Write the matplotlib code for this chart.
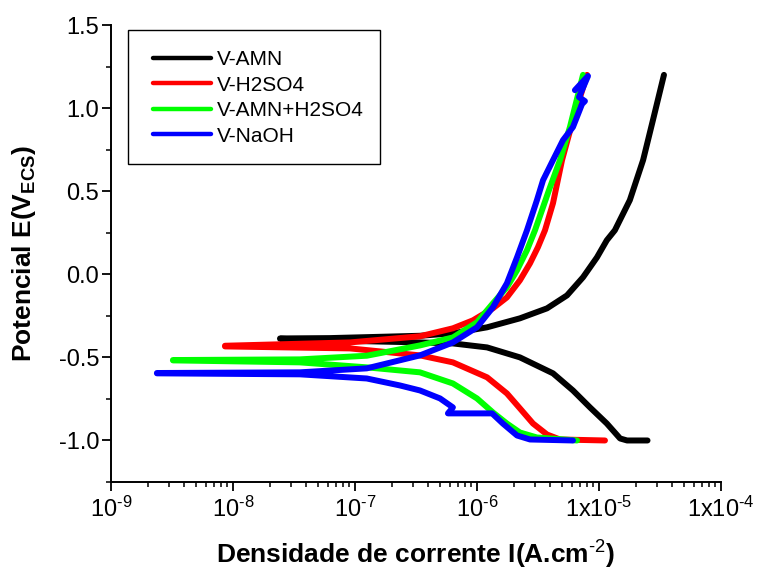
import matplotlib
matplotlib.use('Agg')
import matplotlib.pyplot as plt
from matplotlib.patches import Rectangle
from matplotlib.ticker import (FixedLocator, FixedFormatter, LogLocator, MultipleLocator,
                               NullFormatter, FormatStrFormatter)

plt.rcParams['font.family'] = ['Liberation Sans', 'DejaVu Sans']
plt.rcParams['mathtext.default'] = 'regular'
plt.rcParams['mathtext.fontset'] = 'custom'
plt.rcParams['mathtext.rm'] = 'Liberation Sans'
plt.rcParams['mathtext.bf'] = 'Liberation Sans:bold'

# =============================================================================
# DATA  (current density A/cm2, potential V vs ECS)
# each path: cathodic end -> Ecorr -> anodic end
# =============================================================================

i_amn = [2.50e-5, 1.70e-5, 1.49e-5, 1.16e-5, 8.44e-6, 6.12e-6, 4.20e-6, 2.25e-6, 1.21e-6,
         6.35e-7, 3.41e-7, 6.2e-8, 2.43e-8,
         2.43e-8, 6.2e-8, 3.41e-7, 6.35e-7, 1.21e-6, 2.25e-6, 3.75e-6, 5.47e-6, 7.40e-6,
         9.63e-6, 1.16e-5, 1.35e-5, 1.79e-5, 2.30e-5, 2.77e-5, 3.41e-5]
e_amn = [-1.0, -1.0, -0.988, -0.898, -0.801, -0.699, -0.596, -0.500, -0.440,
         -0.416, -0.410, -0.398, -0.388,
         -0.386, -0.384, -0.370, -0.355, -0.319, -0.265, -0.205, -0.127, -0.018,
         0.102, 0.205, 0.265, 0.446, 0.687, 0.928, 1.2]

i_h2so4 = [1.12e-5, 4.79e-6, 3.75e-6, 2.88e-6, 2.25e-6, 1.76e-6, 1.21e-6, 6.35e-7, 3.41e-7,
           9.1e-8, 8.6e-9,
           8.6e-9, 9.1e-8, 3.41e-7, 6.35e-7, 9.27e-7, 1.35e-6, 1.76e-6, 2.25e-6, 2.72e-6,
           3.16e-6, 3.61e-6, 4.20e-6, 4.98e-6, 6.12e-6, 7.98e-6]
e_h2so4 = [-1.0, -0.994, -0.964, -0.898, -0.807, -0.717, -0.620, -0.530, -0.488,
           -0.446, -0.434,
           -0.430, -0.410, -0.373, -0.325, -0.277, -0.205, -0.139, -0.036, 0.066,
           0.163, 0.265, 0.428, 0.687, 0.928, 1.2]

i_mix = [6.61e-6, 3.10e-6, 2.25e-6, 1.76e-6, 1.35e-6, 1.0e-6, 6.35e-7, 3.41e-7, 1.25e-7,
         3.54e-8, 3.22e-9,
         3.22e-9, 3.54e-8, 1.25e-7, 3.41e-7, 6.35e-7, 1.0e-6, 1.35e-6, 1.76e-6, 2.13e-6,
         2.57e-6, 2.99e-6, 3.89e-6, 4.79e-6, 5.78e-6, 7.40e-6]
e_mix = [-1.0, -0.982, -0.952, -0.898, -0.831, -0.747, -0.657, -0.590, -0.560,
         -0.530, -0.518,
         -0.516, -0.512, -0.490, -0.428, -0.380, -0.289, -0.175, -0.078, 0.024,
         0.145, 0.265, 0.506, 0.687, 0.886, 1.2]

i_naoh = [6.12e-6, 2.72e-6, 2.13e-6, 1.63e-6, 1.33e-6, 5.78e-7, 6.35e-7, 4.98e-7, 3.41e-7,
          2.34e-7, 1.25e-7, 3.54e-8, 2.38e-9,
          2.38e-9, 3.54e-8, 1.25e-7, 3.41e-7, 6.35e-7, 1.0e-6, 1.35e-6, 1.76e-6, 2.13e-6,
          2.57e-6, 3.10e-6, 3.48e-6, 4.20e-6, 5.07e-6, 6.12e-6, 7.26e-6, 7.67e-6, 6.86e-6,
          8.13e-6, 6.35e-6]
e_naoh = [-1.0, -0.994, -0.970, -0.898, -0.837, -0.837, -0.801, -0.747, -0.699,
          -0.669, -0.627, -0.602, -0.596,
          -0.594, -0.590, -0.566, -0.488, -0.410, -0.319, -0.199, -0.054, 0.102,
          0.265, 0.446, 0.566, 0.687, 0.807, 0.886, 1.024, 1.042, 1.066,
          1.193, 1.108]

series_labels = ['V-AMN', 'V-H2SO4', 'V-AMN+H2SO4', 'V-NaOH']
series_colors = ['#000000', '#ff0000', '#00ff00', '#0000ff']

x_ticks = [1e-9, 1e-8, 1e-7, 1e-6, 1e-5, 1e-4]
x_tick_labels = [r'10$^{\text{-9}}$', r'10$^{\text{-8}}$', r'10$^{\text{-7}}$',
                 r'10$^{\text{-6}}$', r'1x10$^{\text{-5}}$', r'1x10$^{\text{-4}}$']

# =============================================================================
# PLOT
# =============================================================================

fig = plt.figure(figsize=(7.59, 5.75), dpi=100)
ax = fig.add_axes([0.1462, 0.1617, 0.8037, 0.7948])

curves = [(i_amn, e_amn), (i_h2so4, e_h2so4), (i_mix, e_mix), (i_naoh, e_naoh)]
for (xs, ys), lab, col in zip(curves, series_labels, series_colors):
    ax.plot(xs, ys, color=col, lw=4.3, label=lab,
            solid_capstyle='round', solid_joinstyle='round')

ax.set_xscale('log')
ax.set_xlim(1e-9, 1e-4)
ax.set_ylim(-1.25, 1.5)

ax.xaxis.set_major_locator(FixedLocator(x_ticks))
ax.xaxis.set_major_formatter(FixedFormatter(x_tick_labels))
ax.xaxis.set_minor_locator(LogLocator(base=10, subs=range(2, 10), numticks=20))
ax.xaxis.set_minor_formatter(NullFormatter())
ax.yaxis.set_major_locator(MultipleLocator(0.5))
ax.yaxis.set_minor_locator(MultipleLocator(0.25))
ax.yaxis.set_major_formatter(FormatStrFormatter('%.1f'))

for side in ('top', 'right'):
    ax.spines[side].set_visible(False)
for side in ('left', 'bottom'):
    ax.spines[side].set_linewidth(1.4)

ax.tick_params(which='major', direction='out', length=6.5, width=1.3)
ax.tick_params(which='minor', direction='out', length=3.5, width=1.1)
ax.tick_params(axis='y', which='major', labelsize=17, pad=2)
ax.tick_params(axis='x', which='major', labelsize=17, pad=4)

ax.set_xlabel(r'Densidade de corrente I(A.cm$^{\text{-2}}$)', fontsize=19, fontweight='bold')
ax.set_ylabel('Potencial E(V$_{ECS}$)', fontsize=19, fontweight='bold')
ax.xaxis.set_label_coords(0.5, -0.125)
ax.yaxis.set_label_coords(-0.12, 0.5)

# legend: frameless entries inside a hand-placed box (Origin style)
leg = ax.legend(loc='upper left', bbox_to_anchor=(0.069, 0.945), borderaxespad=0,
                borderpad=0, fontsize=15, handlelength=2.8, handletextpad=0.25,
                labelspacing=0.31, frameon=False)
for h in leg.get_lines():
    h.set_linewidth(3.2)
ax.add_patch(Rectangle((0.028, 0.696), 0.413, 0.293, transform=ax.transAxes,
                       fill=False, edgecolor='black', lw=1.0, zorder=1))

fig.savefig('out.png', dpi=100)
